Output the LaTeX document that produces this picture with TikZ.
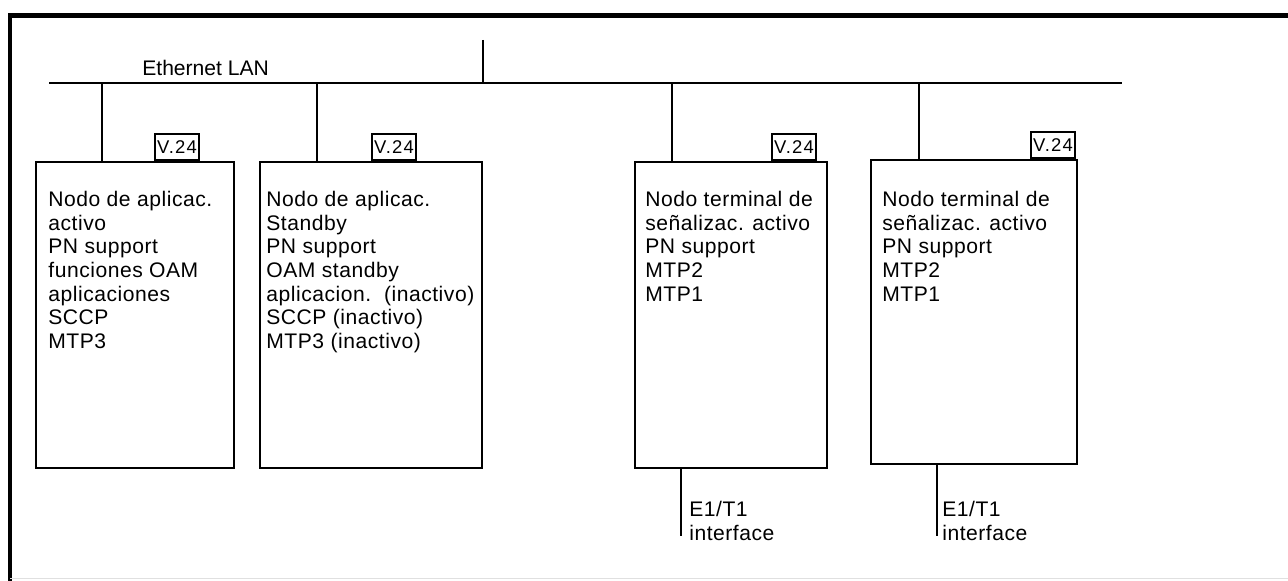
\documentclass[tikz,border=0pt]{standalone}
\usepackage{fontspec}
\setmainfont{Liberation Sans}
\usetikzlibrary{positioning}

\newcommand{\nodofont}{\fontsize{12}{13.45}\selectfont\addfontfeatures{LetterSpace=2.5}}
\newcommand{\tagfont}{\fontsize{10.5}{11}\selectfont\addfontfeatures{LetterSpace=6}}

\begin{document}
\begin{tikzpicture}[
            x=0.02cm, y=-0.02cm,
            nodo/.style={rectangle, draw, line width=1.1pt, minimum height=6.12cm, inner sep=0pt},
            tag/.style={rectangle, draw, line width=1.1pt, minimum width=0.88cm, minimum height=0.52cm, inner sep=0pt, font=\tagfont},
            txt/.style={align=left, inner sep=0pt, font=\nodofont},
            bus/.style={line width=1.1pt},
            stub/.style={line width=0.8pt},
            marco/.style={line width=2.4pt}
        ]
            \useasboundingbox (0,0) rectangle (1288,581);

            % --- MARCO ---
            \draw[marco] (10,581) -- (10,15.5) -- (1288,15.5);
            \draw[black!12, thin] (10,578) -- (1288,578);

            % --- ETHERNET LAN ---
            \coordinate (lanW) at (49,83);
            \coordinate (lanE) at (1122,83);
            \coordinate (lanT) at (483,40);
            \draw[bus] (lanW) -- (lanE);
            \draw[bus] (lanT) -- (lanT |- lanW);
            \node[txt, anchor=north west, font=\fontsize{12}{13.45}\selectfont] (lan) at (142,60) {Ethernet LAN};

            % --- NODOS ---
            \node[nodo, minimum width=3.96cm] (nodo1) at (135,315) {};
            \node[nodo, minimum width=4.44cm] (nodo2) at (371,315) {};
            \node[nodo, minimum width=3.84cm] (nodo3) at (731,315) {};
            \node[nodo, minimum width=4.12cm, minimum height=6.08cm] (nodo4) at (974,312) {};

            % --- V.24 ---
            \node[tag, above left=0pt and 0.7cm of nodo1.north east] (v1) {V.24};
            \node[tag, above left=0pt and 1.32cm of nodo2.north east] (v2) {V.24};
            \node[tag, above left=0pt and 0.22cm of nodo3.north east] (v3) {V.24};
            \node[tag, above left=0pt and 0.04cm of nodo4.north east] (v4) {V.24};

            % --- TEXTOS ---
            \node[txt, below right=0.6cm and 0.26cm of nodo1.north west] (t1)
                {Nodo de aplicac.\\activo\\PN support\\funciones OAM\\aplicaciones\\SCCP\\MTP3};
            \node[txt, below right=0.6cm and 0.14cm of nodo2.north west] (t2)
                {Nodo de aplicac.\\Standby\\PN support\\OAM standby\\aplicacion.\ \ (inactivo)\\SCCP (inactivo)\\MTP3 (inactivo)};
            \node[txt, below right=0.6cm and 0.22cm of nodo3.north west] (t3)
                {Nodo terminal de\\señalizac. activo\\PN support\\MTP2\\MTP1};
            \node[txt, below right=0.64cm and 0.24cm of nodo4.north west] (t4)
                {Nodo terminal de\\señalizac. activo\\PN support\\MTP2\\MTP1};

            % --- LIGACIONES A LA LAN ---
            \coordinate (lan1) at (102,83);
            \coordinate (lan2) at (317,83);
            \coordinate (lan3) at (672,83);
            \coordinate (lan4) at (919,83);
            \draw[bus] (lan1) -- (lan1 |- nodo1.north);
            \draw[bus] (lan2) -- (lan2 |- nodo2.north);
            \draw[bus] (lan3) -- (lan3 |- nodo3.north);
            \draw[bus] (lan4) -- (lan4 |- nodo4.north);

            % --- E1/T1 ---
            \coordinate (e1a) at (681,536);
            \coordinate (e1b) at (937,536);
            \draw[stub] (e1a |- nodo3.south) -- (e1a);
            \draw[stub] (e1b |- nodo4.south) -- (e1b);
            \node[txt, anchor=north west] (if1) at (689,501) {E1/T1\\interface};
            \node[txt, anchor=north west] (if2) at (942,501) {E1/T1\\interface};
        \end{tikzpicture}
\end{document}
